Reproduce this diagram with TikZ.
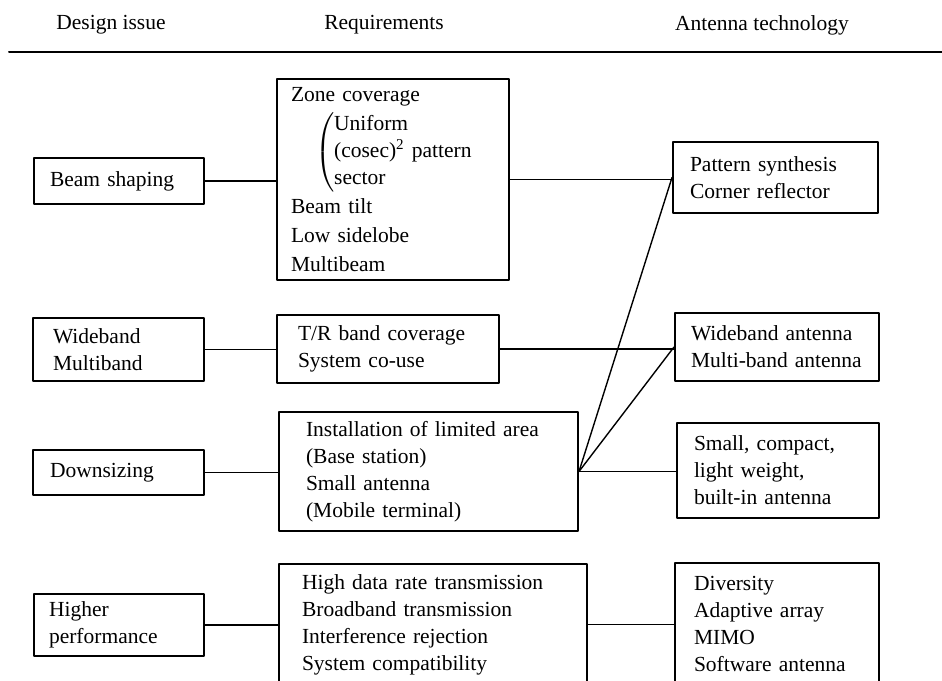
\documentclass[tikz,border=0pt]{standalone}
\usepackage{amsmath}
\usepackage{fontspec}
\setmainfont{Liberation Serif}
\usepackage{tikz}

\begin{document}
\begin{tikzpicture}[line cap=round,line join=round,x=0.5pt,y=-0.5pt,
	head/.style={font=\fontsize{10.75}{13.5}\selectfont},
	itembox/.style={draw,line width=1pt,anchor=north west,align=left,inner ysep=0pt,font=\fontsize{10.75}{13.5}\selectfont},
	link/.style={line width=0.7pt}]
			\useasboundingbox (0,0) rectangle (942,680);
			\clip (0,0) rectangle (942,680);
			% headings
			\node[head] (hdes) at (111,25) {Design issue};
			\node[head] (hreq) at (384,25) {Requirements};
			\node[head] (htech) at (762,25) {Antenna technology};
			\draw [line width=1pt] (9,52) -- (942,52);
			% design issues
			\node[itembox,text width=69pt,inner xsep=8pt,minimum height=23pt] (des1) at (33,157) {Beam shaping};
			\node[itembox,text width=65.5pt,inner xsep=10pt,minimum height=31.5pt] (des2) at (32,317) {Wideband\\Multiband};
			\node[itembox,text width=68.5pt,inner xsep=8.5pt,minimum height=22.5pt] (des3) at (32,449) {Downsizing};
			\node[itembox,text width=70pt,inner xsep=7.5pt,minimum height=31pt] (des4) at (33,593) {Higher\\performance};
			% requirements
			\node[itembox,text width=102pt,inner xsep=7pt,minimum height=100.5pt] (req1) at (276,78) {Zone coverage\\[2pt]
				\hspace*{12pt}$\left(\begin{tabular}{@{}l@{}}Uniform\\(cosec)\textsuperscript{2} pattern\\sector\end{tabular}\right.$\\[2pt]
				Beam tilt\\[1pt]Low sidelobe\\[1pt]Multibeam};
			\node[itembox,text width=90pt,inner xsep=10.5pt,minimum height=34pt] (req2) at (276,314) {T/R band coverage\\System co-use};
			\node[itembox,text width=122.5pt,inner xsep=13.5pt,minimum height=59.5pt] (req3) at (278,411) {Installation of limited area\\(Base station)\\Small antenna\\(Mobile terminal)};
			\node[itembox,text width=131pt,inner xsep=11.5pt,minimum height=60.5pt] (req4) at (278,563) {High data rate transmission\\Broadband transmission\\Interference rejection\\System compatibility};
			% antenna technology
			\node[itembox,text width=85.5pt,inner xsep=8.5pt,minimum height=35.5pt] (tech1) at (672,141) {Pattern synthesis\\Corner reflector};
			\node[itembox,text width=86pt,inner xsep=8pt,minimum height=34pt] (tech2) at (674,312) {Wideband antenna\\Multi-band antenna};
			\node[itembox,text width=84pt,inner xsep=8.5pt,minimum height=47.5pt] (tech3) at (676,422) {Small, compact,\\light weight,\\built-in antenna};
			\node[itembox,text width=83pt,inner xsep=9.5pt,minimum height=61pt] (tech4) at (674,562) {Diversity\\Adaptive array\\MIMO\\Software antenna};
			% links
			\draw [link] (des1.east) -- (des1.east -| req1.west);
			\draw [link] (req1.east) -- (req1.east -| tech1.west);
			\draw [link] (des2.east) -- (des2.east -| req2.west);
			\draw [link] (req2.east) -- (req2.east -| tech2.west);
			\draw [link] (des3.east) -- (des3.east -| req3.west);
			\draw [link] (req3.east) -- (req3.east -| tech3.west);
			\draw [link] (req3.east) -- (tech1.west);
			\draw [link] (req3.east) -- (tech2.west);
			\draw [link] (des4.east) -- (des4.east -| req4.west);
			\draw [link] (req4.east) -- (req4.east -| tech4.west);
			\end{tikzpicture}
\end{document}
